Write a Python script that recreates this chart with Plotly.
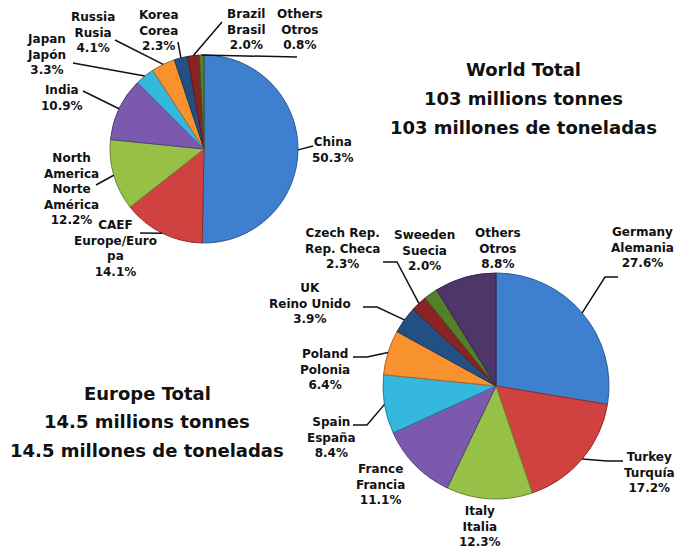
import math
import plotly.graph_objects as go

W, H = 676, 550

# ---------------- data ----------------
world_labels = ["China", "CAEF<br>Europe/Euro<br>pa", "North<br>America<br>Norte<br>América",
                "India", "Japan<br>Japón", "Russia<br>Rusia", "Korea<br>Corea",
                "Brazil<br>Brasil", "Others<br>Otros"]
world_values = [50.3, 14.1, 12.2, 10.9, 3.3, 4.1, 2.3, 2.0, 0.8]

europe_labels = ["Germany<br>Alemania", "Turkey<br>Turquía", "Italy<br>Italia",
                 "France<br>Francia", "Spain<br>España", "Poland<br>Polonia",
                 "UK<br>Reino Unido", "Czech Rep.<br>Rep. Checa", "Sweeden<br>Suecia",
                 "Others<br>Otros"]
europe_values = [27.6, 17.2, 12.3, 11.1, 8.4, 6.4, 3.9, 2.3, 2.0, 8.8]

world_title = ["World Total", "103 millions tonnes", "103 millones de toneladas"]
europe_title = ["Europe Total", "14.5 millions tonnes", "14.5 millones de toneladas"]

# ---------------- styling ----------------
world_colors = ["#3F7FCF", "#D0423F", "#97C046", "#7B5AAE", "#35B8DD",
                "#F7922F", "#234F82", "#8A2424", "#557F2A"]
europe_colors = ["#3F7FCF", "#D0423F", "#97C046", "#7B5AAE", "#35B8DD",
                 "#F7922F", "#234F82", "#8A2424", "#557F2A", "#4E3669"]

FONT = "DejaVu Sans"

# pie geometry (pixels): center x, center y, radius
WC = (204, 149, 94)
EC = (496, 386, 113)


def px(x):
    return x / W


def py(y):
    return 1 - y / H


def dom(c):
    cx, cy, r = c
    return dict(x=[px(cx - r), px(cx + r)], y=[py(cy + r), py(cy - r)])


def darker(hexc, f=0.7):
    h = hexc.lstrip("#")
    r, g, b = (int(h[i:i + 2], 16) for i in (0, 2, 4))
    return "rgb(%d,%d,%d)" % (r * f, g * f, b * f)


fig = go.Figure()
for vals, labs, cols, c in [(world_values, world_labels, world_colors, WC),
                            (europe_values, europe_labels, europe_colors, EC)]:
    fig.add_trace(go.Pie(
        values=vals, labels=labs, sort=False, direction="clockwise", rotation=0,
        textinfo="none", showlegend=False, domain=dom(c),
        marker=dict(colors=cols, line=dict(color=[darker(k) for k in cols], width=1)),
    ))


def edge_point(values, i, c):
    cx, cy, r = c
    tot = sum(values)
    mid = (sum(values[:i]) + values[i] / 2) / tot * 2 * math.pi
    return cx + r * math.sin(mid), cy - r * math.cos(mid)


# label layout: (center x, center y, label-end of leader or None, elbow or None)
world_pos = [
    (333, 150, (313, 146), None),
    (115, 249, (140, 233), None),
    (71, 189, (96, 185), None),
    (62, 98, (83, 91), None),
    (47, 55, (73, 63), None),
    (93, 32, (115, 40), None),
    (159, 30, (178, 42), None),
    (246, 29, (222, 22), None),
    (300, 29, (297, 57), None),
]
europe_pos = [
    (642, 247, (618, 277), (605, 277)),
    (649, 472, (623, 461), (607, 461)),
    (480, 526, None, None),
    (380, 484, None, None),
    (331, 437, (353, 425), (367, 425)),
    (325, 369, (353, 357), (367, 357)),
    (310, 303, (363, 307), (377, 307)),
    (342, 249, (383, 262), (397, 262)),
    (424, 250, None, None),
    (498, 248, None, None),
]

annotations = []
shapes = []
for vals, labs, pos, c in [(world_values, world_labels, world_pos, WC),
                           (europe_values, europe_labels, europe_pos, EC)]:
    for i, (lab, v) in enumerate(zip(labs, vals)):
        x, y, lend, elbow = pos[i]
        annotations.append(dict(
            x=px(x), y=py(y), xref="paper", yref="paper", showarrow=False,
            text=f"{lab}<br>{v:.1f}%", align="center", xanchor="center", yanchor="middle",
            font=dict(family=FONT, size=12, color="#111111", weight="bold"),
        ))
        if lend is not None:
            ex, ey = edge_point(vals, i, c)
            pts = [lend] + ([elbow] if elbow else []) + [(ex, ey)]
            path = "M " + " L ".join(f"{px(a):.5f},{py(b):.5f}" for a, b in pts)
            shapes.append(dict(type="path", xref="paper", yref="paper", path=path,
                               line=dict(color="#111111", width=1.5)))

for lines, cx, ys in [(world_title, 523, [70, 99, 127]), (europe_title, 147, [393, 422, 450])]:
    for t, y in zip(lines, ys):
        annotations.append(dict(
            x=px(cx), y=py(y), xref="paper", yref="paper", showarrow=False, text=t,
            xanchor="center", yanchor="middle",
            font=dict(family=FONT, size=18, color="#111111", weight="bold"),
        ))

fig.update_layout(
    width=W, height=H, margin=dict(l=0, r=0, t=0, b=0),
    paper_bgcolor="white", plot_bgcolor="white",
    annotations=annotations, shapes=shapes,
)

fig.write_html("out.html", config={"displayModeBar": False},
               post_script="document.body.style.margin='0';")
